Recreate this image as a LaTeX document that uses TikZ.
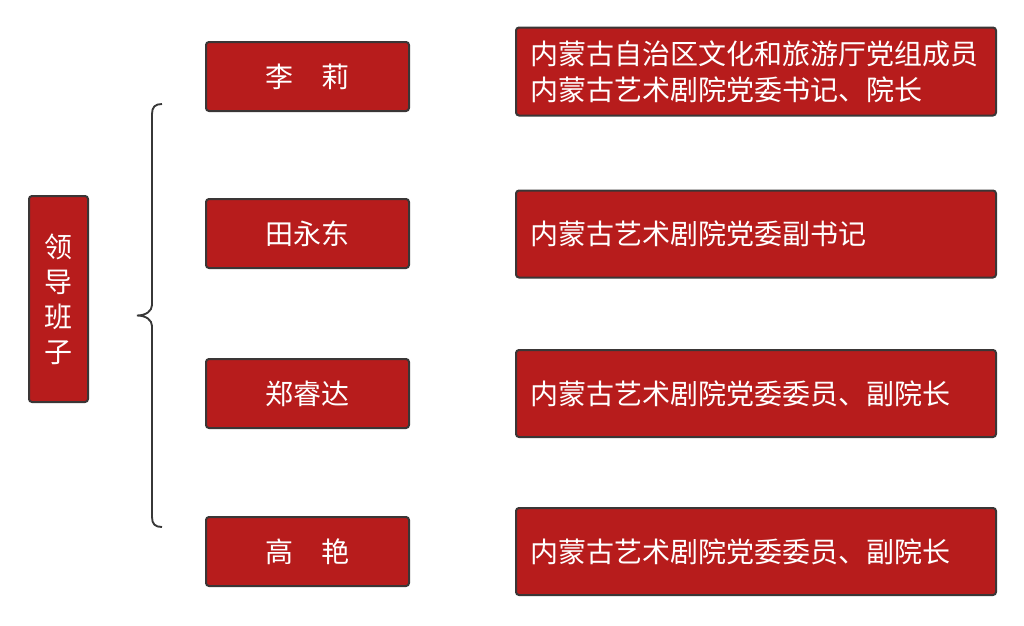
\documentclass[tikz,border=0pt]{standalone}
\usepackage{fontspec}
\setmainfont{Noto Sans CJK SC}
\definecolor{boxRed}{RGB}{183,28,28}
\definecolor{boxEdge}{RGB}{58,54,54}
\definecolor{braceGray}{RGB}{55,55,55}
\tikzset{
  redbox/.style={draw=boxEdge, line width=1.5pt, fill=boxRed, rounded corners=2.25pt,
    text=white, font=\fontsize{21}{26.25}\selectfont, inner sep=0pt, outer sep=0pt},
  groupbox/.style={redbox, minimum width=44.25pt, minimum height=154.5pt, align=center},
  namebox/.style={redbox, minimum width=152.25pt, minimum height=51.75pt},
  postbox/.style={redbox, minimum height=65.25pt, text width=339pt, inner xsep=10.5pt,
    align=left, font=\fontsize{21}{27}\selectfont},
  braceline/.style={draw=braceGray, line width=1.4pt}
}
\begin{document}
\begin{tikzpicture}[x=0.75pt,y=0.75pt,yscale=-1,xscale=1]
%set diagram left start at 0, and has height of 625
\path [use as bounding box] (0,0) rectangle (1024,625);

%Shape: Rectangle [group]
\node [groupbox] (group) at (58.5,299) {领\\导\\班\\子};

%Shape: Rectangle [names]
\node [namebox] (li) at (307.5,76.5) {李　莉};
\node [namebox] (tian) at (307.5,233.5) {田永东};
\node [namebox] (zheng) at (307.5,393.5) {郑睿达};
\node [namebox] (gao) at (307.5,551.5) {高　艳};

%Shape: Rectangle [posts]
\node [postbox, minimum height=66pt] (liPost) at (756,71.5) {内蒙古自治区文化和旅游厅党组成员\\内蒙古艺术剧院党委书记、院长};
\node [postbox] (tianPost) at (756,234) {内蒙古艺术剧院党委副书记};
\node [postbox] (zhengPost) at (756,393.5) {内蒙古艺术剧院党委委员、副院长};
\node [postbox] (gaoPost) at (756,551.5) {内蒙古艺术剧院党委委员、副院长};

%Shape: Brace
\coordinate (braceTop) at (162,104);
\coordinate (braceTip) at (137,315.5);
\coordinate (braceBot) at (162,527);
\draw [braceline] (braceTop) .. controls (155,104) and (152,107) .. (152,114) -- (152,305)
  .. controls (152,311) and (146,315.5) .. (braceTip)
  .. controls (146,315.5) and (152,320) .. (152,326) -- (152,517)
  .. controls (152,524) and (155,527) .. (braceBot);

\end{tikzpicture}
\end{document}
